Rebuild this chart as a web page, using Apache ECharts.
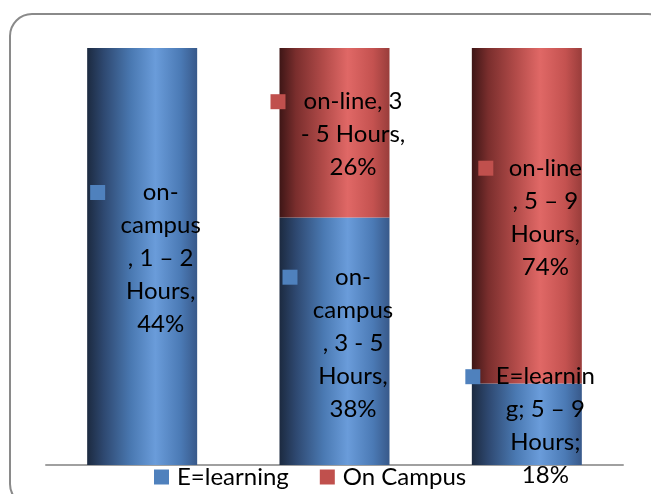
<!DOCTYPE html>
<html>
<head>
<meta charset="utf-8">
<script src="https://cdn.jsdelivr.net/npm/echarts@6/dist/echarts.min.js"></script>
<style>
  html, body { margin: 0; padding: 0; background: #fff; }
  #chart { width: 651px; height: 494px; }
</style>
</head>
<body>
<div id="chart"></div>
<script>
// data
var categories = ['1 – 2 Hours', '3 - 5 Hours', '5 – 9 Hours'];
var eLearning = [44, 38, 18];
var onCampus = [0, 26, 74];
var eLearningLabels = [
  ['on-', 'campus', ', 1 – 2', 'Hours,', '44%'],
  ['on-', 'campus', ', 3 - 5', 'Hours,', '38%'],
  ['E=learnin', 'g; 5 – 9', 'Hours;', '18%']
];
var onCampusLabels = [
  [],
  ['on-line, 3', '- 5 Hours,', '26%'],
  ['on-line', ', 5 – 9', 'Hours,', '74%']
];

var FONT = 'Lato';
var blue = '#4f81bd', red = '#c0504d';

// 100% stacked: heights are shares of each column total
var totals = eLearning.map(function (v, i) { return v + onCampus[i]; });
function share(arr) {
  return arr.map(function (v, i) { return v / totals[i] * 100; });
}

var ctx = document.createElement('canvas').getContext('2d');
ctx.font = '24px ' + FONT;
function textWidth(lines) {
  var w = 0;
  lines.forEach(function (l) { w = Math.max(w, ctx.measureText(l).width); });
  return Math.ceil(w) + 2;
}

function labelOpt(texts, keyColor) {
  var rich = {
    k: { width: 15, height: 15, backgroundColor: keyColor },
    g: { width: 14 },
    s: { width: 29 }
  };
  texts.forEach(function (lines, i) {
    rich['t' + i] = {
      width: textWidth(lines), align: 'center',
      fontFamily: FONT, fontSize: 24, lineHeight: 33, color: '#000'
    };
  });
  return {
    show: true,
    position: 'inside',
    offset: [4, 2],
    rich: rich,
    formatter: function (p) {
      var lines = texts[p.dataIndex];
      if (!lines || !lines.length) return '';
      return lines.map(function (l, j) {
        return (j === 0 ? '{k|}{g|}' : '{s|}') + '{t' + p.dataIndex + '|' + l + '}';
      }).join('\n');
    }
  };
}

function grad(stops) {
  return new echarts.graphic.LinearGradient(0, 0, 1, 0, stops.map(function (c) {
    return { offset: c[0], color: c[1] };
  }));
}
var blueGrad = grad([[0, '#1c2a40'], [0.15, '#2e4870'], [0.4, '#4a79b2'], [0.62, '#6a9cda'], [0.85, '#4b7ab5'], [1, '#38598a']]);
var redGrad = grad([[0, '#3e1616'], [0.15, '#7a2e2d'], [0.4, '#b24b49'], [0.62, '#e06866'], [0.85, '#c45250'], [1, '#993d3b']]);

var chart = echarts.init(document.getElementById('chart'));
chart.setOption({
  backgroundColor: '#fff',
  animation: false,
  graphic: [{
    type: 'rect',
    shape: { x: 10, y: 14, width: 660, height: 492, r: 22 },
    style: { fill: 'none', stroke: '#8a8a8a', lineWidth: 2 },
    z: 0
  }],
  grid: { left: 46, right: 28, top: 48, bottom: 29 },
  legend: {
    left: 154,
    top: 465,
    padding: 0,
    icon: 'rect',
    itemWidth: 15,
    itemHeight: 15,
    itemGap: 31,
    textStyle: { fontFamily: FONT, fontSize: 24, color: '#000', padding: [0, 0, 0, 3] },
    data: [
      { name: 'E=learning', itemStyle: { color: blue } },
      { name: 'On Campus', itemStyle: { color: red } }
    ]
  },
  xAxis: {
    type: 'category',
    data: categories,
    axisLine: { lineStyle: { color: '#a0a0a0', width: 2 } },
    axisTick: { show: false },
    axisLabel: { show: false }
  },
  yAxis: {
    type: 'value',
    min: 0,
    max: 100,
    show: false,
    splitLine: { show: false }
  },
  series: [
    {
      name: 'E=learning',
      type: 'bar',
      stack: 'total',
      barWidth: 110,
      data: share(eLearning),
      itemStyle: { color: blueGrad },
      label: labelOpt(eLearningLabels, blue)
    },
    {
      name: 'On Campus',
      type: 'bar',
      stack: 'total',
      barWidth: 110,
      data: share(onCampus),
      itemStyle: { color: redGrad },
      label: labelOpt(onCampusLabels, red)
    }
  ]
});
</script>
</body>
</html>
